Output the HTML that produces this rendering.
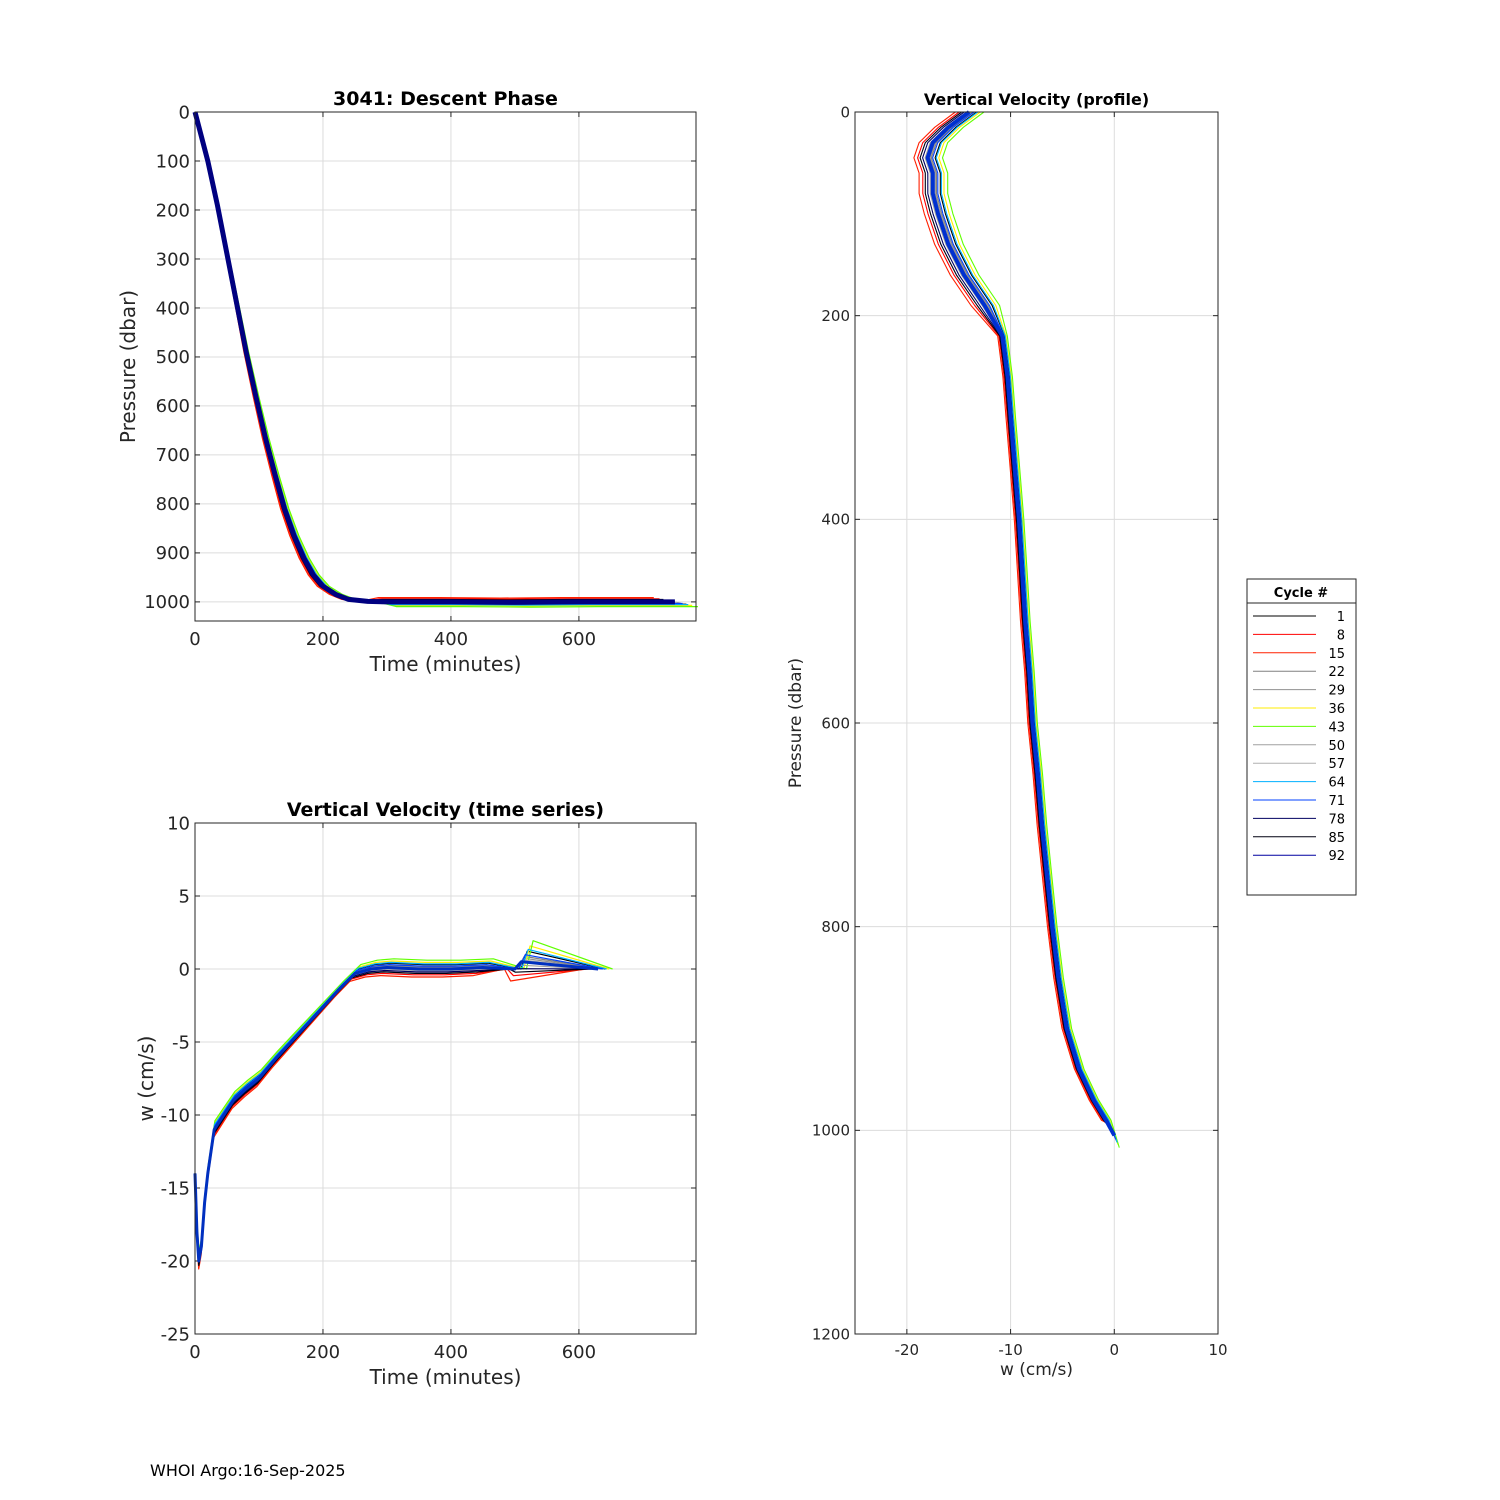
<!DOCTYPE html>
<html><head><meta charset="utf-8"><style>
html,body{margin:0;padding:0;background:#fff}
svg{display:block;font-family:"DejaVu Sans","Liberation Sans",sans-serif}
</style></head><body>
<svg id="fig" width="1500" height="1500" viewBox="0 0 1500 1500"></svg>
<script>
// ---- data ----
const descentTime=[0,10,20,35,50,65,80,95,110,125,140,155,170,185,200,220,240,270,300,400,500,600,750];
const descentPres=[0,50,100,190,290,390,490,580,665,740,810,865,910,945,968,985,995,999,1000,1000,1001,1000,1000];
const tsTime=[0,3,6,10,15,20,30,45,60,80,100,125,150,175,200,225,250,275,300,350,400,450,500,510,630];
const tsW=[-14,-18,-20,-19,-16,-14,-11,-10,-9,-8.2,-7.5,-6.2,-5,-3.8,-2.6,-1.4,-0.3,0,0.1,0,0,0.1,0,0.5,0];
const profP=[0,15,30,45,60,80,100,130,160,190,220,260,300,350,400,450,500,550,600,650,700,750,800,850,900,940,970,990,1005];
const profW=[-14,-16,-17.5,-18,-17.5,-17.5,-17,-16,-14.5,-12.5,-10.8,-10.3,-10,-9.6,-9.2,-8.9,-8.6,-8.2,-7.9,-7.4,-7,-6.5,-6,-5.4,-4.6,-3.4,-2,-0.8,0];
const cycles=[1,8,15,22,29,36,43,50,57,64,71,78,85,92];
const cycleColors=["#000000","#ff0000","#ff2000","#808080","#909090","#ffee00","#60ff00","#a0a0a0","#b0b0b0","#00b0ff","#0040ff","#000060","#000010","#0000a0"];
const cycleOffset=[0.6,-0.8,-1.1,0.3,0.2,0.9,1.2,-0.2,0.1,0.7,0.4,-0.4,-0.6,0.0];
const xTicks1=[0,200,400,600];
const yTicks1=[0,100,200,300,400,500,600,700,800,900,1000];
const yTicks2=[10,5,0,-5,-10,-15,-20,-25];
const xTicks3=[-20,-10,0,10];
const yTicks3=[0,200,400,600,800,1000,1200];

const NS="http://www.w3.org/2000/svg";
const svg=document.getElementById('fig');
function mk(tag,attrs,parent){const e=document.createElementNS(NS,tag);for(const k in attrs)e.setAttribute(k,attrs[k]);(parent||svg).appendChild(e);return e;}
function txt(s,x,y,size,anchor,parent,extra){const t=mk('text',Object.assign({x:x,y:y,'font-size':size,'text-anchor':anchor||'middle',fill:'#262626'},extra||{}),parent);t.textContent=s;return t;}

function axes(name,L,T,R,B,x0,x1,y0,y1,xt,yt,fs,xlabel,ylabel,title,tfs,xlabOff,ylabX){
  const g=mk('g',{});
  
  
  const sx=v=>L+(v-x0)/(x1-x0)*(R-L), sy=v=>T+(v-y0)/(y1-y0)*(B-T);
  mk('rect',{x:L,y:T,width:R-L,height:B-T,fill:'#fff'},g);
  xt.forEach(v=>{const x=sx(v);mk('line',{x1:x,x2:x,y1:T,y2:B,stroke:'#dcdcdc','stroke-width':1},g);
    mk('line',{x1:x,x2:x,y1:B,y2:B-5,stroke:'#262626'},g);mk('line',{x1:x,x2:x,y1:T,y2:T+5,stroke:'#262626'},g);
    const t=txt(String(v),x,B+fs+6,fs,'middle',g);});
  yt.forEach(v=>{const y=sy(v);mk('line',{x1:L,x2:R,y1:y,y2:y,stroke:'#dcdcdc','stroke-width':1},g);
    mk('line',{x1:L,x2:L+5,y1:y,y2:y,stroke:'#262626'},g);mk('line',{x1:R,x2:R-5,y1:y,y2:y,stroke:'#262626'},g);
    const t=txt(String(v),L-5,y+fs*0.35,fs,'end',g);});
  const plot=mk('g',{},g);
  
  
  const xl=txt(xlabel,(L+R)/2,B+fs+6+xlabOff,fs+2,'middle',g);
  
  
  const yl=txt(ylabel,ylabX,(T+B)/2,fs+2,'middle',g,{transform:`rotate(-90 ${ylabX} ${(T+B)/2})`});
  
  
  const tt=txt(title,(L+R)/2,T-7,tfs,'middle',g,{'font-weight':'bold',fill:'#000'});
  
  
  return {g,plot,sx,sy,frame:()=>mk('rect',{x:L,y:T,width:R-L,height:B-T,fill:'none',stroke:'#262626','stroke-width':1},g)};
}
function poly(parent,pts,color,w,name){const p=mk('polyline',{points:pts.map(q=>q[0].toFixed(1)+','+q[1].toFixed(1)).join(' '),fill:'none',stroke:color,'stroke-width':w,'stroke-linejoin':'round'},parent);
  
  }

// Plot 1
const a1=axes('descent-chart',195,112,696,621,0,783,0,1039,xTicks1,yTicks1,18,'Time (minutes)','Pressure (dbar)','3041: Descent Phase',19,26,135);
cycles.forEach((c,i)=>{const o=cycleOffset[i];
  poly(a1.plot,descentTime.map((t,j)=>[a1.sx(t*(1+o*0.04)),a1.sy(descentPres[j]+(j>17?o*8:0))]),cycleColors[i],1.2,'descent-line-cycle-'+c);});
poly(a1.plot,descentTime.map((t,j)=>[a1.sx(t),a1.sy(descentPres[j])]),'#000080',5,'descent-line-mean');
a1.frame();

// Plot 2
const a2=axes('velocity-time-chart',195,823,696,1334,0,783,10,-25,xTicks1,yTicks2,18,'Time (minutes)','w (cm/s)','Vertical Velocity (time series)',19,26,153);
cycles.forEach((c,i)=>{const o=cycleOffset[i];
  poly(a2.plot,tsTime.map((t,j)=>[a2.sx(t*(1+o*0.03)),a2.sy(tsW[j]+o*(j<22&&j>0?0.5:0)+(j==23?o*1.2:0))]),cycleColors[i],1.2,'velocity-time-line-cycle-'+c);});
poly(a2.plot,tsTime.map((t,j)=>[a2.sx(t),a2.sy(tsW[j])]),'#0030c0',3,'velocity-time-line-mean');
a2.frame();

// Plot 3
const a3=axes('velocity-profile-chart',855,112,1218,1334,-25,10,0,1200,xTicks3,yTicks3,15,'w (cm/s)','Pressure (dbar)','Vertical Velocity (profile)',16,20,801);
cycles.forEach((c,i)=>{const o=cycleOffset[i];
  poly(a3.plot,profP.map((p,j)=>[a3.sx(profW[j]+o*(j<10?1.2:0.4)),a3.sy(p+(j==profP.length-1?o*10:0))]),cycleColors[i],1.1,'velocity-profile-line-cycle-'+c);});
poly(a3.plot,profP.map((p,j)=>[a3.sx(profW[j]),a3.sy(p)]),'#0030d0',4,'velocity-profile-line-mean');
a3.frame();

// Legend
const lg=mk('g',{});


mk('rect',{x:1247,y:579,width:109,height:316,fill:'#fff',stroke:'#262626'},lg);
mk('line',{x1:1247,x2:1356,y1:603,y2:603,stroke:'#262626'},lg);
const lt=txt('Cycle #',1301,597,13,'middle',lg,{'font-weight':'bold',fill:'#000'});


cycles.forEach((c,i)=>{const y=616+i*18.4;
  const e=mk('g',{},lg);
  
  
  mk('line',{x1:1253,x2:1316,y1:y,y2:y,stroke:cycleColors[i],'stroke-width':1},e);
  txt(String(c),1345,y+5,13,'end',e,{fill:'#000'});});

const ft=txt('WHOI Argo:16-Sep-2025',150,1476,16,'start',svg,{fill:'#000'});


</script>
</body></html>
